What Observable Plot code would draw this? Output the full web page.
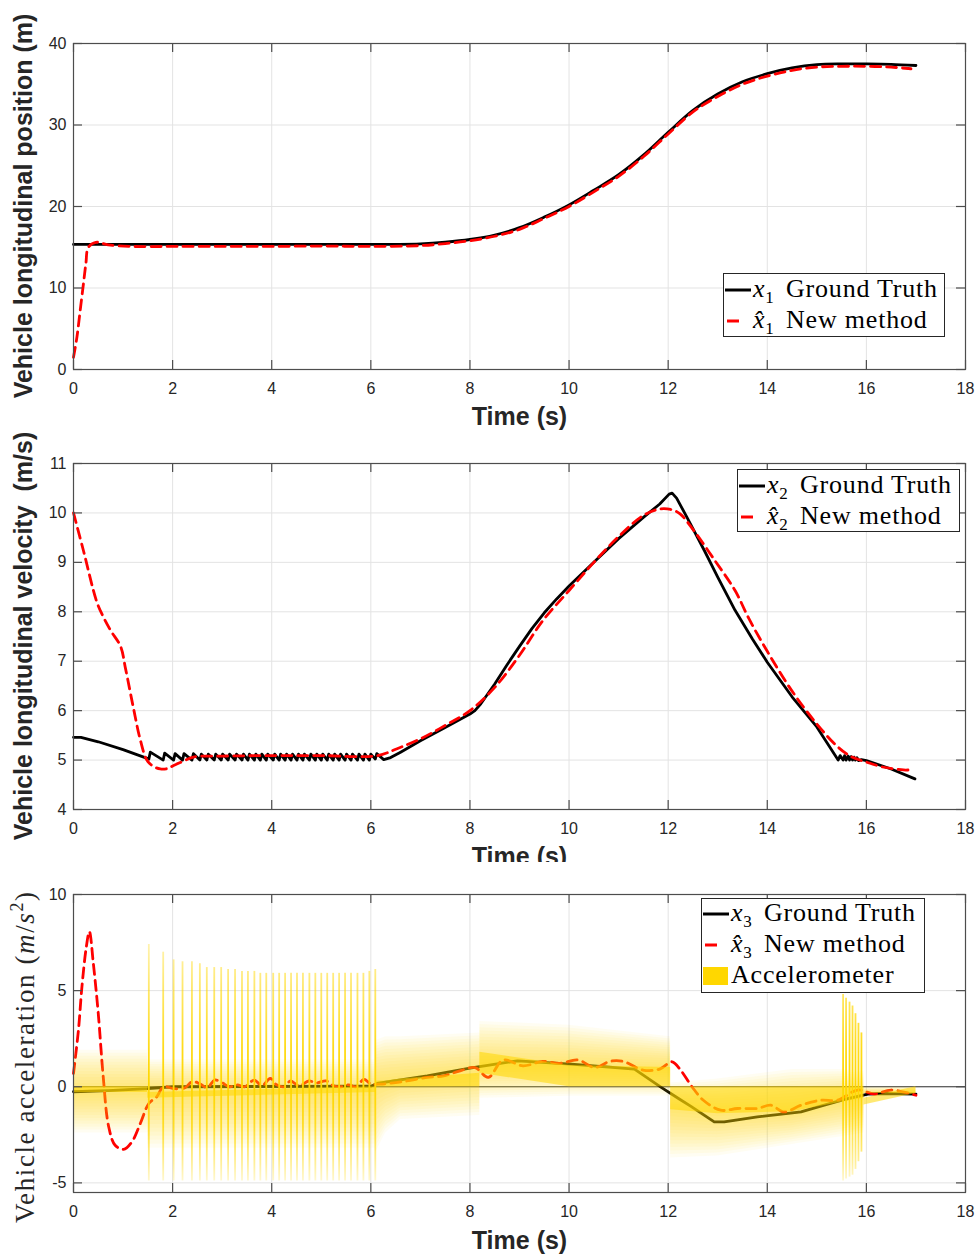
<!DOCTYPE html>
<html>
<head>
<meta charset="utf-8">
<script src="https://cdn.jsdelivr.net/npm/d3@7"></script>
<script src="https://cdn.jsdelivr.net/npm/@observablehq/plot@0.6"></script>
<style>
  body { margin: 0; background: #fff; }
  #wrap { position: relative; width: 979px; height: 1256px; overflow: hidden; background: #fff; }
  .panel { position: absolute; left: 0; width: 979px; }
  .legend { position: absolute; background: #fff; border: 1px solid #262626; box-sizing: border-box;
            font-family: "Liberation Serif", "Times New Roman", serif; font-size: 26px; color: #000; }
  .legend .t { position: absolute; white-space: nowrap; line-height: 1; letter-spacing: 0.8px; }
  .legend .sub { font-size: 17px; position: relative; top: 6px; font-style: normal; letter-spacing: 0; }
</style>
</head>
<body>
<div id="wrap"></div>
<script>
// ---------------- DATA ----------------
const xTicks = [0, 2, 4, 6, 8, 10, 12, 14, 16, 18];

// Panel 1: longitudinal position
const p1Ticks = [0, 10, 20, 30, 40];
const p1TruthT = [0, 1, 2, 3, 4, 5, 6, 6.5, 7, 7.5, 8, 8.5, 9, 9.5, 10, 10.5, 11, 11.5, 12, 12.5, 13, 13.5, 14, 14.5, 15, 15.5, 16, 16.5, 17];
const p1TruthV = [15.35, 15.35, 15.35, 15.35, 15.35, 15.35, 15.35, 15.36, 15.42, 15.62, 15.95, 16.5, 17.4, 18.7, 20.2, 22.0, 23.9, 26.3, 29.1, 31.8, 33.8, 35.3, 36.3, 37.0, 37.4, 37.5, 37.5, 37.45, 37.3];
const p1EstT = [0, 0.07, 0.13, 0.2, 0.25, 0.3, 0.45, 0.7, 1.2, 2, 3, 4, 5, 6, 7, 7.5, 8, 8.5, 9, 9.5, 10, 10.5, 11, 11.5, 12, 12.5, 13, 13.5, 14, 14.5, 15, 15.5, 16, 16.5, 16.9];
const p1EstV = [1.5, 4, 7, 10.5, 13, 15, 15.6, 15.3, 15.1, 15.1, 15.1, 15.1, 15.15, 15.1, 15.2, 15.45, 15.8, 16.35, 17.2, 18.55, 20.0, 21.8, 23.7, 26.1, 28.9, 31.6, 33.5, 35.0, 36.0, 36.7, 37.1, 37.2, 37.2, 37.1, 36.9];

// Panel 2: longitudinal velocity
const p2Ticks = [4, 5, 6, 7, 8, 9, 10, 11];
const p2TruthT = [0, 0.15, 0.5, 1.0, 1.5,
  1.52, 1.55, 1.81, 1.84, 2.02, 2.05, 2.20, 2.23, 2.39, 2.42, 2.55, 2.58, 2.69, 2.72, 2.84, 2.87, 2.98, 3.01,
  3.12, 3.15, 3.26, 3.29, 3.40, 3.43, 3.52, 3.55, 3.65, 3.68, 3.77, 3.80, 3.89, 3.92, 4.03, 4.06, 4.15, 4.18,
  4.27, 4.30, 4.39, 4.42, 4.51, 4.54, 4.63, 4.66, 4.76, 4.79, 4.88, 4.91, 5.00, 5.03, 5.12, 5.15, 5.24, 5.27,
  5.36, 5.39, 5.48, 5.51, 5.60, 5.63, 5.73, 5.76, 5.85, 5.88, 5.97, 6.00, 6.09, 6.12,
  6.26, 6.4, 6.6, 7.0, 7.5, 8.0, 8.1, 8.22, 8.5, 8.75, 9.0, 9.25, 9.5, 9.75, 10.0, 10.5, 11.0, 11.5, 11.83, 12.02, 12.08, 12.17,
  12.38, 12.73, 13.0, 13.35, 13.7, 14.0, 14.5, 15.0, 15.43,
  15.47, 15.53, 15.56, 15.59, 15.63, 15.66, 15.69, 15.72, 15.75, 15.78, 15.81, 15.84, 15.9, 16.0, 16.5, 16.98];
const p2TruthV = [5.46, 5.46, 5.37, 5.21, 5.03,
  5.02, 5.16, 5.0, 5.14, 5.0, 5.13, 5.0, 5.13, 5.0, 5.13, 5.0, 5.12, 5.0, 5.12, 5.0, 5.12, 5.0, 5.12,
  5.0, 5.12, 5.0, 5.12, 5.0, 5.12, 5.0, 5.12, 5.0, 5.12, 5.0, 5.12, 5.0, 5.12, 5.0, 5.12, 5.0, 5.12,
  5.0, 5.12, 5.0, 5.12, 5.0, 5.12, 5.0, 5.12, 5.0, 5.12, 5.0, 5.12, 5.0, 5.12, 5.0, 5.12, 5.0, 5.12,
  5.0, 5.12, 5.0, 5.12, 5.0, 5.12, 5.0, 5.12, 5.0, 5.12, 5.0, 5.12, 5.02, 5.13,
  5.01, 5.05, 5.16, 5.39, 5.66, 5.93, 6.0, 6.14, 6.54, 6.93, 7.3, 7.66, 7.98, 8.26, 8.52, 9.0, 9.48, 9.91, 10.18, 10.38, 10.40, 10.30,
  9.91, 9.24, 8.70, 8.03, 7.45, 6.98, 6.28, 5.67, 5.0,
  5.09, 5.0, 5.09, 5.0, 5.08, 5.0, 5.07, 5.0, 5.06, 5.0, 5.05, 4.99, 5.01, 4.99, 4.82, 4.62];
const p2EstT = [0, 0.2, 0.47, 0.6, 0.75, 0.95, 1.05, 1.2, 1.35, 1.48, 1.6, 1.75, 1.9, 2.02, 2.2, 2.42, 3, 4, 5, 6.13, 6.53, 7.0, 7.5, 8.0, 8.5, 9, 9.47, 10, 10.5, 11, 11.5, 11.83, 12.05, 12.24, 12.52, 12.94, 13.35, 13.63, 14, 14.49, 15, 15.43, 15.71, 16, 16.33, 16.75, 16.85];
const p2EstV = [10.0, 9.24, 8.2, 7.9, 7.62, 7.3, 6.85, 6.1, 5.4, 5.0, 4.88, 4.82, 4.83, 4.89, 4.97, 5.06, 5.08, 5.09, 5.09, 5.09, 5.23, 5.43, 5.7, 6.0, 6.47, 7.12, 7.82, 8.43, 9.0, 9.52, 9.95, 10.08, 10.07, 9.98, 9.64, 9.04, 8.43, 7.86, 7.2, 6.41, 5.73, 5.26, 5.06, 4.96, 4.86, 4.80, 4.80];

// Panel 3: acceleration
const p3Ticks = [-5, 0, 5, 10];
const p3TruthT = [0, 0.7, 1.5, 2.0, 6.0, 6.13, 7.14, 8.0, 8.96, 10.04, 11.32, 11.86, 12.2, 12.46, 12.93, 13.13, 13.8, 14.68, 15.15, 15.56, 16.03, 16.36, 17.0];
const p3TruthV = [-0.26, -0.2, -0.1, 0.0, 0.03, 0.17, 0.57, 0.97, 1.35, 1.18, 0.92, -0.03, -0.6, -1.02, -1.83, -1.83, -1.57, -1.31, -0.96, -0.66, -0.38, -0.35, -0.38];
const p3EstT = [0, 0.1, 0.17, 0.26, 0.32, 0.4, 0.5, 0.6, 0.71, 0.84, 1.01, 1.18, 1.35, 1.52, 1.68, 1.82, 2.02, 2.25, 2.4, 2.55, 2.7, 2.85, 3.0, 3.15, 3.3, 3.45, 3.65, 3.8, 3.97, 4.1, 4.25, 4.38, 4.55, 4.75, 4.9, 5.1, 5.25, 5.4, 5.55, 5.7, 5.86, 6.0, 6.2, 6.67, 7.14, 7.47, 7.8, 8.1, 8.37, 8.67, 9.07, 9.47, 9.81, 10.18, 10.52, 10.82, 11.09, 11.49, 11.83, 12.08, 12.25, 12.48, 12.71, 13.06, 13.4, 13.8, 14.07, 14.34, 14.68, 15.08, 15.42, 15.82, 16.16, 16.5, 17.0];
const p3EstV = [0.7, 2.95, 5.2, 7.3, 8.07, 6.42, 3.8, 0.52, -2.08, -3.04, -3.26, -2.86, -1.9, -0.87, -0.52, 0.0, -0.1, -0.05, 0.28, 0.15, -0.05, 0.35, 0.2, 0.0, 0.1, 0.0, 0.35, 0.05, 0.43, 0.1, 0.0, 0.3, 0.05, 0.3, 0.2, 0.3, 0.05, 0.0, 0.1, 0.0, 0.38, 0.15, 0.14, 0.28, 0.49, 0.57, 0.83, 1.0, 0.49, 1.39, 1.09, 1.32, 1.22, 1.39, 1.0, 1.32, 1.32, 0.87, 0.92, 1.3, 0.87, 0.0, -0.7, -1.22, -1.13, -1.13, -0.96, -1.31, -0.96, -0.7, -0.7, -0.17, -0.38, -0.17, -0.44];

// Accelerometer: smeared band (outer envelope and inner level) and spikes
const accT    = [0,    1.5,  1.5,  6.1,  6.1,  6.3,  6.6,  8.2,  8.2,  10,   12.05, 12.05, 13.0, 14.5, 15.5, 15.95, 15.95, 17.0];
const accLow  = [-2.4, -2.4, -3.2, -3.2, -3.4, -2.4, -1.7, -1.5, -0.6, -0.5, -0.5,  -3.7,  -3.6, -3.0, -2.6, -2.4,  -0.35, -0.35];
const accHigh = [1.9,  1.9,  1.4,  1.4,  2.4,  2.6,  2.6,  2.8,  3.4,  3.2,  2.6,   0.2,   0.4,  0.9,  0.9,  0.8,   0,     0];
const accCore = [-0.3, -0.3, -0.3, -0.3, 0.3,  0.3,  0.4,  0.7,  1.1,  1.1,  1.0,   -1.2,  -1.4, -1.3, -0.8, -0.6,  -0.35, -0.35];
const spikeT   = [1.52, 1.81, 2.02, 2.20, 2.39, 2.55, 2.69, 2.84, 2.98, 3.12, 3.26, 3.40, 3.52, 3.65, 3.77, 3.89, 4.03, 4.15, 4.27, 4.39, 4.51, 4.63, 4.76, 4.88, 5.00, 5.12, 5.24, 5.36, 5.48, 5.60, 5.73, 5.85, 5.97, 6.09, 15.53, 15.59, 15.66, 15.72, 15.78, 15.84, 15.90];
const spikeTop = [7.4, 7.0, 6.6, 6.5, 6.5, 6.4, 6.2, 6.2, 6.2, 6.1, 6.1, 6.0, 6.0, 6.0, 5.9, 5.9, 5.9, 5.9, 5.9, 5.9, 5.9, 5.9, 5.9, 5.9, 5.9, 5.9, 5.9, 5.9, 5.9, 5.9, 5.9, 5.9, 6.0, 6.1, 4.8, 4.6, 4.4, 4.2, 3.8, 3.3, 2.8];
const spikeBot = [-4.9, -4.9, -4.9, -4.9, -4.9, -4.9, -4.9, -4.9, -4.9, -4.9, -4.9, -4.9, -4.9, -4.9, -4.9, -4.9, -4.9, -4.9, -4.9, -4.9, -4.9, -4.9, -4.9, -4.9, -4.9, -4.9, -4.9, -4.9, -4.9, -4.9, -4.9, -4.9, -4.9, -4.9, -4.9, -4.8, -4.7, -4.6, -4.3, -3.9, -3.4];

// ---------------- HELPERS ----------------
const zip = (T, V) => T.map((t, i) => ({t, v: V[i]}));
const SANS = "'Liberation Sans', Arial, Helvetica, sans-serif";
const wrap = document.getElementById("wrap");
const FRAME = "#4d4d4d", GRID = "#e3e3e3", GOLD = "#FFD700";

function makePanel({top, height, mt, mb, yDomain, yTicks, marks, clip, xlabDy}) {
  const fh = height - mt - mb;
  const fw = 979 - 73 - 14;
  const svg = Plot.plot({
    width: 979, height, marginTop: mt, marginBottom: mb, marginLeft: 73, marginRight: 14,
    style: {fontFamily: SANS, fontSize: "16px", color: "#262626", background: "transparent", overflow: "visible"},
    x: {domain: [0, 18], ticks: xTicks, tickSize: 0, tickPadding: 13, label: null, tickFormat: d => String(d)},
    y: {domain: yDomain, ticks: yTicks, tickSize: 0, tickPadding: 7, label: null, tickFormat: d => String(d)},
    marks: [
      Plot.ruleX(xTicks, {stroke: GRID, strokeWidth: 1}),
      Plot.ruleY(yTicks, {stroke: GRID, strokeWidth: 1}),
      ...marks,
      Plot.frame({stroke: FRAME, strokeWidth: 1.2}),
      Plot.ruleX(xTicks, {stroke: FRAME, strokeWidth: 1.2, insetBottom: fh - 9}),
      Plot.ruleX(xTicks, {stroke: FRAME, strokeWidth: 1.2, insetTop: fh - 9}),
      Plot.ruleY(yTicks, {stroke: FRAME, strokeWidth: 1.2, insetRight: fw - 9}),
      Plot.ruleY(yTicks, {stroke: FRAME, strokeWidth: 1.2, insetLeft: fw - 9}),
      Plot.text(["Time (s)"], {frameAnchor: "bottom", dy: xlabDy, fontSize: 25, fontWeight: "bold",
        fill: "#262626", lineAnchor: "middle", fontFamily: SANS})
    ]
  });
  const div = document.createElement("div");
  div.className = "panel";
  div.style.top = top + "px";
  div.style.height = height + "px";
  div.style.overflow = clip ? "hidden" : "visible";
  div.appendChild(svg);
  wrap.appendChild(div);
  return svg;
}

function ylabelSans(svg, text, cx, cy) {
  d3.select(svg).append("text")
    .attr("transform", `translate(${cx},${cy}) rotate(-90)`)
    .attr("text-anchor", "middle")
    .attr("font-family", SANS).attr("font-size", 25).attr("font-weight", "bold")
    .attr("fill", "#262626")
    .style("white-space", "pre")
    .text(text);
}

function addLegend(left, top, w, h, items) {
  const d = document.createElement("div");
  d.className = "legend";
  Object.assign(d.style, {left: left + "px", top: top + "px", width: w + "px", height: h + "px"});
  let html = "";
  for (const it of items) {
    if (it.kind === "solid") {
      html += `<svg style="position:absolute;left:1px;top:${it.cy - 3}px" width="27" height="6"><line x1="0" x2="26" y1="3" y2="3" stroke="#000" stroke-width="3"/></svg>`;
    } else if (it.kind === "dash") {
      html += `<svg style="position:absolute;left:1px;top:${it.cy - 3}px" width="27" height="6"><line x1="2" x2="14" y1="3" y2="3" stroke="#ff0000" stroke-width="3"/></svg>`;
    } else {
      html += `<div style="position:absolute;left:1px;top:${it.cy - 9}px;width:25px;height:18px;background:${GOLD}"></div>`;
    }
    if (it.math) {
      const xs = it.hat ? `<i>x\u0302</i>` : `<i>x</i>`;
      html += `<span class="t" style="left:${it.mx}px;top:${it.cy - 14}px">${xs}<span class="sub">${it.sub}</span></span>`;
    }
    html += `<span class="t" style="left:${it.lx}px;top:${it.cy - 14}px">${it.label}</span>`;
  }
  d.innerHTML = html;
  wrap.appendChild(d);
}

// ---------------- PANEL 1 ----------------
const s1 = makePanel({
  top: 0, height: 426, mt: 43, mb: 57, yDomain: [0, 40], yTicks: p1Ticks, xlabDy: 47,
  marks: [
    Plot.line(zip(p1TruthT, p1TruthV), {x: "t", y: "v", stroke: "#000", strokeWidth: 2.8, curve: "catmull-rom"}),
    Plot.line(zip(p1EstT, p1EstV), {x: "t", y: "v", stroke: "#ff0000", strokeWidth: 2.8, strokeDasharray: "10,6", curve: "catmull-rom"})
  ]
});
ylabelSans(s1, "Vehicle longitudinal position (m)", 32, 206);

// ---------------- PANEL 2 ----------------
const s2 = makePanel({
  top: 426, height: 436, mt: 37, mb: 53, yDomain: [4, 11], yTicks: p2Ticks, clip: true, xlabDy: 47,
  marks: [
    Plot.line(zip(p2TruthT, p2TruthV), {x: "t", y: "v", stroke: "#000", strokeWidth: 2.8}),
    Plot.line(zip(p2EstT, p2EstV), {x: "t", y: "v", stroke: "#ff0000", strokeWidth: 2.8, strokeDasharray: "10,6", curve: "catmull-rom"})
  ]
});
ylabelSans(s2, "Vehicle longitudinal velocity\u00a0 (m/s)", 32, 210);

// ---------------- PANEL 3 ----------------
const acc = accT.map((t, i) => ({t, lo: accLow[i], hi: accHigh[i], c: accCore[i]}));
const spikes = spikeT.map((t, i) => ({t, top: spikeTop[i], bot: spikeBot[i]}));
// soft, smeared look of the accelerometer trace: nested translucent bands around its level
const NB = 14;
const glowLayers = d3.range(1, NB + 1).map(k =>
  Plot.areaY(acc, {x: "t", y1: d => d.c + (d.lo - d.c) * k / NB, y2: d => d.c + (d.hi - d.c) * k / NB,
    fill: GOLD, fillOpacity: 0.05})
);
const s3 = makePanel({
  top: 862, height: 394, mt: 32, mb: 64, yDomain: [-5.5, 10], yTicks: p3Ticks, xlabDy: 48,
  marks: [
    Plot.ruleY([0], {stroke: "#333", strokeWidth: 1.2}),
    Plot.line(zip(p3TruthT, p3TruthV), {x: "t", y: "v", stroke: "#000", strokeWidth: 2.8}),
    Plot.line(zip(p3EstT, p3EstV), {x: "t", y: "v", stroke: "#ff0000", strokeWidth: 2.8, strokeDasharray: "10,6", curve: "catmull-rom"}),
    ...glowLayers,
    Plot.areaY(acc, {x: "t", y: "c", fill: GOLD, fillOpacity: 0.55}),
    Plot.ruleX(spikes, {x: "t", y1: "bot", y2: "top", stroke: "url(#spikeGrad)", strokeWidth: 1.8})
  ]
});
{
  const sel = d3.select(s3);
  const defs = sel.insert("defs", ":first-child");
  const ys = d3.scaleLinear([-5.5, 10], [394 - 64, 32]);
  const g = defs.append("linearGradient").attr("id", "spikeGrad").attr("gradientUnits", "userSpaceOnUse")
    .attr("x1", 0).attr("x2", 0).attr("y1", 32).attr("y2", 394 - 64);
  const stops = [[10, 0], [7.5, 0.3], [5, 0.6], [2, 0.9], [0, 1], [-2, 0.8], [-4, 0.4], [-5.5, 0.05]];
  for (const [v, o] of stops) {
    g.append("stop").attr("offset", (ys(v) - 32) / (394 - 64 - 32)).attr("stop-color", GOLD).attr("stop-opacity", o);
  }
  // y label (LaTeX-style serif)
  const t = sel.append("text")
    .attr("transform", `translate(34,${1223 - 862}) rotate(-90)`)
    .attr("text-anchor", "start")
    .attr("font-family", "'Liberation Serif', 'Times New Roman', serif")
    .attr("font-size", 27).attr("letter-spacing", 1.6).attr("fill", "#262626")
    .style("white-space", "pre");
  t.append("tspan").text("Vehicle acceleration (");
  t.append("tspan").attr("font-style", "italic").text("m");
  t.append("tspan").text("/");
  t.append("tspan").attr("font-style", "italic").text("s");
  t.append("tspan").attr("font-size", 18).attr("dy", -11).text("2");
  t.append("tspan").attr("dy", 11).text(")");
}

// ---------------- LEGENDS ----------------
addLegend(723, 273, 222, 64, [
  {kind: "solid", cy: 16, math: true, sub: "1", mx: 29, lx: 62, label: "Ground Truth"},
  {kind: "dash", cy: 47, math: true, hat: true, sub: "1", mx: 29, lx: 62, label: "New method"}
]);
addLegend(737, 469, 223, 63, [
  {kind: "solid", cy: 16, math: true, sub: "2", mx: 29, lx: 62, label: "Ground Truth"},
  {kind: "dash", cy: 47, math: true, hat: true, sub: "2", mx: 29, lx: 62, label: "New method"}
]);
addLegend(701, 898, 224, 95, [
  {kind: "solid", cy: 15, math: true, sub: "3", mx: 29, lx: 62, label: "Ground Truth"},
  {kind: "dash", cy: 46, math: true, hat: true, sub: "3", mx: 29, lx: 62, label: "New method"},
  {kind: "rect", cy: 77, lx: 29, label: "Accelerometer"}
]);
</script>
</body>
</html>
